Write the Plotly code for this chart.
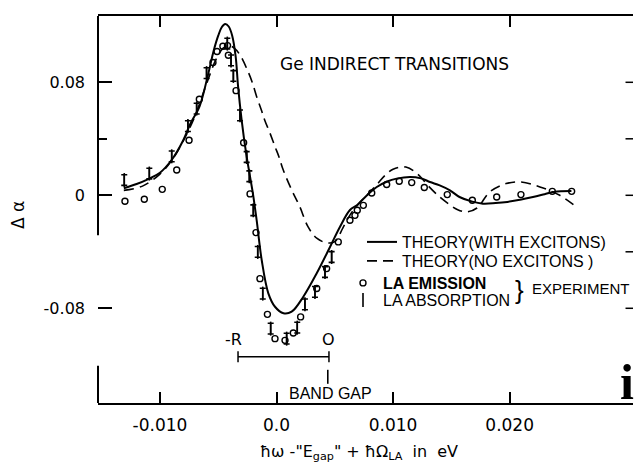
import plotly.graph_objects as go

# ---------------- data ----------------
theory_exc_x = [-0.0131, -0.0120, -0.0110, -0.0100, -0.0090, -0.0080, -0.0074, -0.0066, -0.0059,
                -0.0054, -0.0050, -0.0047, -0.0044, -0.0041, -0.0038, -0.0035, -0.0033, -0.0030,
                -0.0026, -0.00227, -0.0020, -0.0017, -0.00127, -0.0007, -0.00013, 0.0006, 0.0013,
                0.0023, 0.00345, 0.0046, 0.00545, 0.0063, 0.0069, 0.0077, 0.0086, 0.0095, 0.0103,
                0.01145, 0.0124, 0.01317, 0.0140, 0.01488, 0.0157, 0.0168, 0.0177, 0.0188, 0.0198,
                0.0210, 0.0220, 0.0230, 0.0238, 0.0253]
theory_exc_y = [0.0050, 0.0080, 0.0115, 0.0160, 0.0250, 0.0390, 0.0505, 0.0630, 0.0845,
                0.1020, 0.1130, 0.1190, 0.1213, 0.1195, 0.1130, 0.0980, 0.0775, 0.0540,
                0.0295, 0.0132, 0.0000, -0.0178, -0.0458, -0.0694, -0.0789, -0.0835, -0.0824,
                -0.0718, -0.0552, -0.0364, -0.0222, -0.0104, -0.0070, -0.0005, 0.0059, 0.0098, 0.0118,
                0.0130, 0.0120, 0.0094, 0.0070, 0.0035, -0.0012, -0.0045, -0.0059, -0.0055, -0.0047,
                -0.0030, -0.0012, 0.0008, 0.0024, 0.0030]

theory_noexc_x = [-0.0131, -0.0115, -0.0100, -0.0090, -0.0080, -0.0070, -0.0060, -0.0052, -0.0046,
                  -0.0041, -0.0036, -0.0031, -0.0025, -0.0021, -0.0017, -0.0013, -0.0010, -0.00056,
                  -0.00013, 0.0002, 0.00058, 0.0013, 0.0020, 0.0027, 0.00345, 0.0043, 0.0050,
                  0.0057, 0.0063, 0.0070, 0.0078, 0.0086, 0.0093, 0.0100, 0.0111, 0.0121, 0.0131,
                  0.0140, 0.01474, 0.0155, 0.0163, 0.0172, 0.0183, 0.0197, 0.0210, 0.0226, 0.0243,
                  0.0258]
theory_noexc_y = [0.0035, 0.0065, 0.0150, 0.0245, 0.0385, 0.0560, 0.0790, 0.0960, 0.1040,
                  0.1060, 0.1040, 0.0990, 0.0887, 0.0804, 0.0698, 0.0604, 0.0530, 0.0440,
                  0.0345, 0.0275, 0.0179, 0.0038, -0.0081, -0.0222, -0.0304, -0.0336, -0.0328,
                  -0.0230, -0.0140, -0.0065, 0.0005, 0.0075, 0.0140, 0.0185, 0.0200, 0.0150, 0.0060,
                  -0.0012, -0.0059, -0.0100, -0.0118, -0.0090, 0.0024, 0.0083, 0.0094, 0.0059, 0.0000,
                  -0.0087]

la_emission_x = [-0.0130, -0.01134, -0.0098, -0.00856, -0.0075, -0.00662, -0.00545, -0.0051, -0.0046,
                 -0.0042, -0.00413, -0.00347, -0.00282, -0.00227, -0.00176, -0.00142, -0.00078,
                 -0.00013, 0.00073, 0.00144, 0.00207, 0.00345, 0.0043, 0.0053, 0.0063, 0.00673,
                 0.00693, 0.00745, 0.00817, 0.00945, 0.01053, 0.0116, 0.01268, 0.01465, 0.0168,
                 0.01889, 0.02097, 0.02366, 0.02532]
la_emission_y = [-0.0042, -0.0028, 0.0042, 0.0179, 0.0390, 0.0680, 0.0940, 0.1018, 0.1055,
                 0.1060, 0.0991, 0.0741, 0.0372, 0.0010, -0.0264, -0.0590, -0.0843,
                 -0.1015, -0.1027, -0.0975, -0.0861, -0.0660, -0.0519, -0.0330, -0.0177, -0.0142,
                 -0.0106, -0.0071, 0.0016, 0.0076, 0.0099, 0.0090, 0.0055, 0.0005, -0.0035,
                 -0.0012, 0.0005, 0.0028, 0.0028]

la_absorption_x = [-0.01306, -0.01091, -0.00899, -0.0076, -0.00685, -0.0060, -0.00422, -0.0039,
                   -0.0037, -0.00313, -0.00256, -0.00233, -0.00199, -0.00161, -0.00118, -0.0005,
                   0.00087, 0.00178, 0.00244, 0.0033, 0.00416, 0.00473]
la_absorption_y = [0.0108, 0.0154, 0.0276, 0.0490, 0.0614, 0.0865, 0.1074, 0.0955,
                   0.0845, 0.0566, 0.0271, 0.0135, -0.0106, -0.0401, -0.0696, -0.0944,
                   -0.1015, -0.0937, -0.0772, -0.0684, -0.0543, -0.0437]
absorption_halfbar = 0.0038

x_tickvals = [-0.010, 0.0, 0.010, 0.020]
x_ticktext = ["-0.010", "0.0", "0.010", "0.020"]
y_tickvals = [0.08, 0.0, -0.08]
y_ticktext = ["0.08", "0", "-0.08"]
y_minor_vals = [0.04]
right_tick_vals = [0.08, 0.04, 0.0, -0.04, -0.08]

bracket_x = [-0.0033, 0.0045]
bracket_y = [-0.1143, -0.1143]
band_gap_x = [0.0044]
band_gap_y = [-0.1285]

x_range = [-0.015313, 0.030583]
y_range = [-0.14705, 0.12694]
left_axis_gap = [-0.0283, -0.1206]

# ---------------- helpers for pixel placement ----------------
W, H = 634, 466
ML, MR, MT, MB = 98, 1, 16, 63
PW, PH = W - ML - MR, H - MT - MB


def px(xp):
    return (xp - ML) / PW


def py(yp):
    return 1 - (yp - MT) / PH


# ---------------- figure ----------------
fig = go.Figure()

fig.add_trace(go.Scatter(x=theory_exc_x, y=theory_exc_y, mode="lines", line_shape="spline",
                         line=dict(color="black", width=2), name="THEORY(WITH EXCITONS)",
                         legend="legend"))
fig.add_trace(go.Scatter(x=theory_noexc_x, y=theory_noexc_y, mode="lines", line_shape="spline",
                         line=dict(color="black", width=1.6, dash="10px,6px"),
                         name="THEORY(NO EXCITONS )", legend="legend2"))
fig.add_trace(go.Scatter(x=la_emission_x, y=la_emission_y, mode="markers",
                         marker=dict(symbol="circle-open", size=6, color="black",
                                     line=dict(width=1.4, color="black")),
                         name="<b>LA EMISSION</b>", legend="legend3"))
fig.add_trace(go.Scatter(x=la_absorption_x, y=la_absorption_y, mode="markers",
                         marker=dict(symbol="line-ns", size=10, color="black",
                                     line=dict(width=1.6, color="black")),
                         error_y=dict(type="constant", value=absorption_halfbar, color="black",
                                      thickness=1.6, width=3),
                         name="LA ABSORPTION", legend="legend4"))
# bracket for the exciton binding energy and the band gap marker
fig.add_trace(go.Scatter(x=bracket_x, y=bracket_y, mode="lines+markers", showlegend=False,
                         line=dict(color="black", width=1.5),
                         marker=dict(symbol="line-ns", size=8, line=dict(width=1.5, color="black"))))
fig.add_trace(go.Scatter(x=band_gap_x, y=band_gap_y, mode="markers", showlegend=False,
                         marker=dict(symbol="line-ns", size=10, line=dict(width=1.6, color="black"))))

shapes = [
    dict(type="line", xref="paper", yref="y", x0=0, x1=0, y0=y_range[1], y1=left_axis_gap[0],
         line=dict(color="black", width=2)),
    dict(type="line", xref="paper", yref="y", x0=0, x1=0, y0=left_axis_gap[1], y1=y_range[0],
         line=dict(color="black", width=2)),
]
for v in right_tick_vals:
    shapes.append(dict(type="line", xref="paper", yref="y", x0=0.986, x1=1.0, y0=v, y1=v,
                       line=dict(color="black", width=1.5)))

lab_font = dict(family="DejaVu Sans", size=16, color="black")
annotations = [
    dict(x=0.0101, y=0.093, xref="x", yref="y", text="Ge INDIRECT TRANSITIONS", showarrow=False,
         xanchor="center", yanchor="middle",
         font=dict(family="DejaVu Sans", size=17, color="black")),
    dict(x=-0.0037, y=-0.1024, xref="x", yref="y", text="-R", showarrow=False,
         xanchor="center", yanchor="middle", font=lab_font),
    dict(x=0.0045, y=-0.1024, xref="x", yref="y", text="O", showarrow=False,
         xanchor="center", yanchor="middle", font=lab_font),
    dict(x=0.0046, y=-0.1405, xref="x", yref="y", text="BAND GAP", showarrow=False,
         xanchor="center", yanchor="middle",
         font=dict(family="Liberation Sans Narrow, Liberation Sans", size=16, color="black")),
    dict(x=px(519), y=py(290), xref="paper", yref="paper", text="}", xanchor="center",
         yanchor="middle", showarrow=False,
         font=dict(family="Liberation Sans", size=26, color="black")),
    dict(x=px(530), y=py(288), xref="paper", yref="paper", xanchor="left", yanchor="middle",
         text="EXPERIMENT", showarrow=False,
         font=dict(family="Liberation Sans", size=15, color="black")),
    dict(x=px(18), y=py(215), xref="paper", yref="paper", text="Δ α", xanchor="center",
         yanchor="middle", textangle=-90, showarrow=False,
         font=dict(family="DejaVu Sans", size=17, color="black")),
    dict(x=px(359), y=py(452), xref="paper", yref="paper", xanchor="center", yanchor="middle",
         text="ħω -\"E<sub>gap</sub>\" + ħΩ<sub>LA</sub>  in  eV", showarrow=False,
         font=dict(family="DejaVu Sans", size=16, color="black")),
    dict(x=px(618), y=py(412), xref="paper", yref="paper", xanchor="left",
         yanchor="bottom", text="<b>i</b>", showarrow=False,
         font=dict(family="Liberation Serif", size=50, color="black")),
]

leg_common = dict(xanchor="left", yanchor="top", bgcolor="rgba(0,0,0,0)", itemwidth=30,
                  font=dict(family="Liberation Sans", size=16, color="black"))

fig.update_layout(
    width=W, height=H,
    margin=dict(l=ML, r=MR, t=MT, b=MB),
    paper_bgcolor="white", plot_bgcolor="white",
    shapes=shapes, annotations=annotations,
    showlegend=True,
    legend=dict(x=px(362), y=py(225), **leg_common),
    legend2=dict(x=px(362), y=py(244), **leg_common),
    legend3=dict(x=px(343), y=py(266), **leg_common),
    legend4=dict(x=px(343), y=py(283), **leg_common),
    xaxis=dict(range=x_range, showgrid=False, zeroline=False, showline=True, linecolor="black",
               linewidth=2, mirror="ticks", ticks="inside", ticklen=11, tickwidth=1.5,
               tickcolor="black", tickvals=x_tickvals, ticktext=x_ticktext,
               tickfont=dict(family="DejaVu Sans", size=17, color="black"), ticklabelstandoff=6),
    yaxis=dict(range=y_range, showgrid=False, zeroline=False, showline=False, ticks="inside",
               ticklen=14, tickwidth=1.5, tickcolor="black", tickvals=y_tickvals,
               ticktext=y_ticktext, ticklabelstandoff=12,
               minor=dict(tickvals=y_minor_vals, ticks="inside", ticklen=9, tickcolor="black",
                          tickwidth=1.5),
               tickfont=dict(family="DejaVu Sans", size=16, color="black")),
)

fig.write_html("out.html")
